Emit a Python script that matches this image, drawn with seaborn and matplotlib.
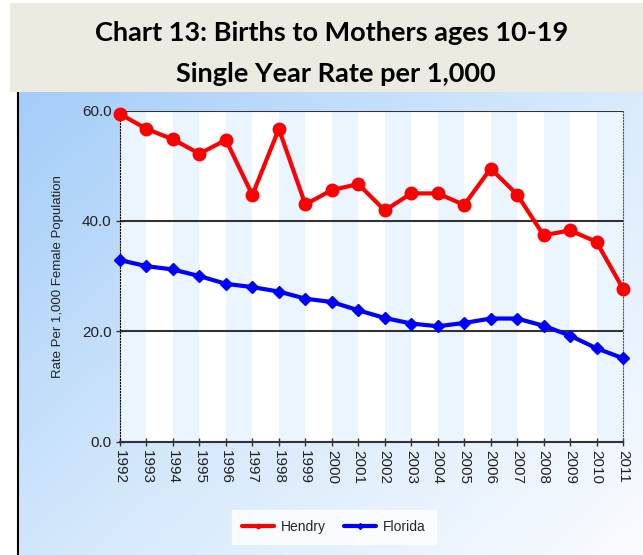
import numpy as np
import pandas as pd
import seaborn as sns
from matplotlib import pyplot as plt
from matplotlib.colors import LinearSegmentedColormap
from matplotlib.lines import Line2D
from matplotlib.patches import Rectangle

years = list(range(1992, 2012))
hendry = [59.4, 56.7, 54.8, 52.2, 54.7, 44.7, 56.7, 43.0, 45.6, 46.7,
          41.9, 45.0, 45.0, 42.9, 49.5, 44.8, 37.4, 38.3, 36.2, 27.7]
florida = [32.9, 31.8, 31.2, 30.0, 28.6, 28.0, 27.2, 25.9, 25.3, 23.8,
           22.4, 21.4, 20.9, 21.5, 22.3, 22.3, 21.0, 19.2, 16.9, 15.1]
y_ticks = [0, 20, 40, 60]

df = pd.DataFrame({"Year": years, "Hendry": hendry, "Florida": florida})
df_long = df.melt(id_vars="Year", var_name="Area", value_name="Rate")

sns.set_style("white")
plt.rcParams["font.family"] = ["Liberation Sans", "DejaVu Sans"]

fig = plt.figure(figsize=(6.43, 5.55), dpi=100)
fig.patch.set_facecolor("white")

# beige title band
fig.patches.append(Rectangle((10 / 643, 1 - 92 / 555), 1 - 10 / 643, 89 / 555,
                             transform=fig.transFigure, facecolor="#ECEBE1",
                             edgecolor="none", zorder=0))
fig.text(332 / 643, 1 - 33 / 555, "Chart 13: Births to Mothers ages 10-19",
         ha="center", va="center", fontsize=19.5, fontweight="bold",
         family=["Lato", "DejaVu Sans"], color="black")
fig.text(336 / 643, 1 - 74 / 555, "Single Year Rate per 1,000",
         ha="center", va="center", fontsize=19.5, fontweight="bold",
         family=["Lato", "DejaVu Sans"], color="black")

# gradient background of the chart panel
bg = fig.add_axes([18 / 643, 0, 1 - 18 / 643, 1 - 92 / 555], zorder=0)
cmap = LinearSegmentedColormap.from_list("bg", ["#A4CDF9", "#D6E9FC", "#FAFCFF"])
gx, gy = np.meshgrid(np.linspace(0, 1, 200), np.linspace(0, 1, 200))
bg.imshow(0.55 * gx + 0.45 * gy, cmap=cmap, aspect="auto", extent=[0, 1, 0, 1],
          origin="upper", vmin=0, vmax=1)
bg.set_xticks([])
bg.set_yticks([])
for side in ["top", "right", "bottom"]:
    bg.spines[side].set_visible(False)
bg.spines["left"].set_color("black")
bg.spines["left"].set_linewidth(1.5)

ax = fig.add_axes([120 / 643, 1 - 441.5 / 555, 503 / 643, 330.8 / 555], zorder=1)
ax.set_facecolor("white")

# alternating column stripes
for i in range(len(years) - 1):
    if i % 2 == 0:
        ax.axvspan(years[i], years[i + 1], color="#EBF5FF", lw=0, zorder=0)

for v in y_ticks[1:]:
    ax.axhline(v, color="#333333", lw=1.5, zorder=1)

sns.lineplot(data=df_long, x="Year", y="Rate", hue="Area", style="Area",
             palette={"Hendry": "#FF0000", "Florida": "#0000FF"},
             markers={"Hendry": "o", "Florida": "D"}, dashes=False,
             markersize=0, lw=3, ax=ax, legend=False, zorder=3)
ax.plot(years, hendry, ls="none", marker="o", ms=9, color="#FF0000",
        mec="#FF0000", clip_on=False, zorder=4)
ax.plot(years, florida, ls="none", marker="D", ms=6.5, color="#0000FF",
        mec="#0000FF", clip_on=False, zorder=4)

ax.set_xlim(years[0], years[-1])
ax.set_ylim(0, 60)
ax.set_xticks(years)
ax.set_xticklabels([str(y) for y in years], rotation=-90, fontsize=11,
                   color="#222222")
ax.set_yticks(y_ticks)
ax.set_yticklabels([f"{v:.1f}" for v in y_ticks], fontsize=11, color="#222222")
ax.tick_params(axis="both", direction="inout", length=6, width=1, color="#333333",
               bottom=True, left=True, pad=3)
ax.set_xlabel("")
ax.set_ylabel("Rate Per 1,000 Female Population", fontsize=9.5, color="#222222",
              labelpad=13)

ax.spines["left"].set_linestyle(":")
ax.spines["left"].set_color("black")
ax.spines["right"].set_linestyle(":")
ax.spines["right"].set_color("#555555")
ax.spines["top"].set_visible(False)
ax.spines["bottom"].set_color("#333333")
ax.spines["bottom"].set_linewidth(1.5)

handles = [
    Line2D([], [], color="#FF0000", lw=3, marker="o", ms=3),
    Line2D([], [], color="#0000FF", lw=3, marker="D", ms=3),
]
leg = fig.legend(handles, ["Hendry", "Florida"], loc="center",
                 bbox_to_anchor=(334 / 643, 1 - 527 / 555), ncol=2,
                 frameon=True, fancybox=False, fontsize=10, handlelength=2.3,
                 columnspacing=1.3, borderpad=0.7, handletextpad=0.5)
leg.get_frame().set_edgecolor("white")
leg.get_frame().set_facecolor("white")

fig.savefig("out.png", dpi=100)
